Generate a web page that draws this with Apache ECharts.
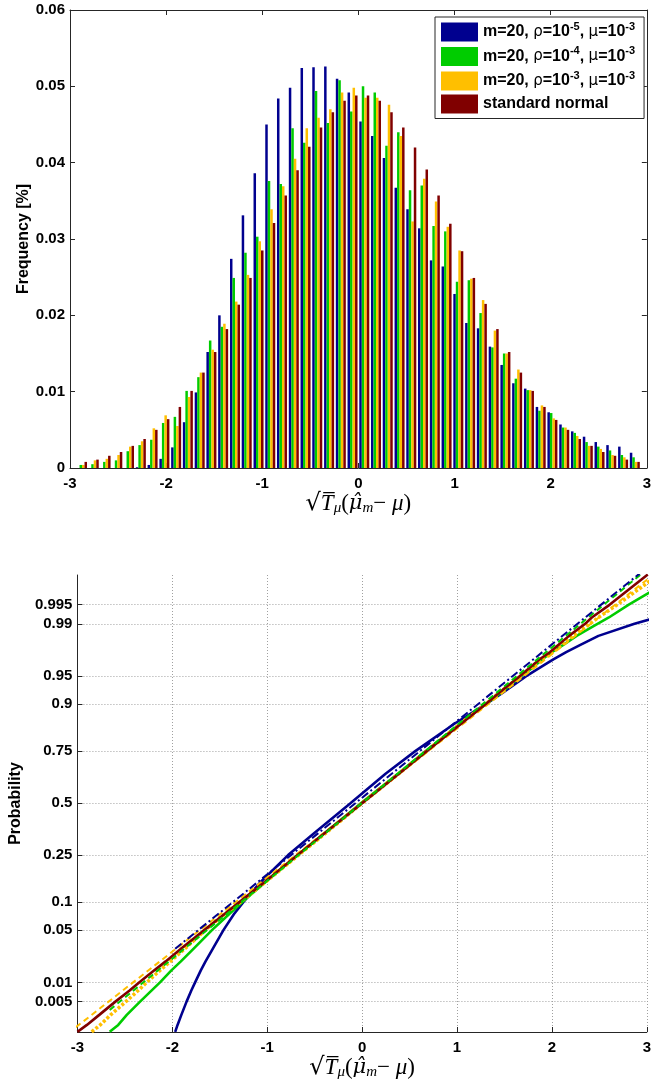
<!DOCTYPE html>
<html><head><meta charset="utf-8">
<script src="https://cdn.jsdelivr.net/npm/echarts@6/dist/echarts.min.js"></script>
<style>html,body{margin:0;padding:0;background:#fff}#c{width:654px;height:1085px}</style>
</head><body><div id="c"></div>
<script>
// ---------- data: histogram (top panel) ----------
const binCenters = [-2.875,-2.753,-2.630,-2.508,-2.386,-2.263,-2.141,-2.018,-1.896,-1.774,-1.651,-1.529,-1.407,-1.284,-1.162,-1.039,-0.917,-0.795,-0.672,-0.550,-0.428,-0.305,-0.183,-0.061,0.061,0.183,0.305,0.428,0.550,0.672,0.795,0.917,1.039,1.162,1.284,1.407,1.529,1.651,1.774,1.896,2.018,2.141,2.263,2.386,2.508,2.630,2.753,2.875];
const seriesNames = ['m=20, rho=1e-5, mu=1e-3','m=20, rho=1e-4, mu=1e-3','m=20, rho=1e-3, mu=1e-3','standard normal'];
const freqBlue = [0,0,0,0,0,0.0001,0.0004,0.0012,0.0027,0.006,0.0099,0.0152,0.02,0.0274,0.0331,0.0386,0.045,0.0484,0.0498,0.0524,0.0525,0.0526,0.051,0.0492,0.0454,0.0435,0.0406,0.0367,0.0339,0.0314,0.0272,0.0264,0.0228,0.019,0.0183,0.0159,0.0135,0.0111,0.0104,0.008,0.0073,0.0057,0.0048,0.0041,0.0034,0.003,0.0028,0.002];
const freqGreen = [0.0004,0.0005,0.0008,0.001,0.0022,0.003,0.0037,0.0059,0.0067,0.0101,0.0119,0.0167,0.0185,0.0249,0.0282,0.0303,0.0376,0.0372,0.0445,0.0426,0.0494,0.0452,0.0508,0.0467,0.05,0.0492,0.0422,0.044,0.0364,0.037,0.0317,0.031,0.0244,0.0246,0.0203,0.0158,0.015,0.0117,0.0102,0.0075,0.0072,0.0053,0.0046,0.0034,0.0028,0.0023,0.0017,0.0014];
const freqYellow = [0.0004,0.001,0.0012,0.0017,0.0028,0.0035,0.0052,0.0069,0.0055,0.0093,0.0125,0.0155,0.0189,0.0218,0.0253,0.0297,0.0339,0.0369,0.0405,0.0445,0.0459,0.047,0.0492,0.0498,0.0485,0.0485,0.0476,0.0435,0.0323,0.0379,0.0349,0.0316,0.0285,0.0248,0.022,0.018,0.015,0.0129,0.0102,0.0082,0.0065,0.0053,0.0042,0.0029,0.0025,0.0017,0.0014,0.0008];
const freqRed = [0.0008,0.0011,0.0016,0.0021,0.0029,0.0038,0.005,0.0064,0.008,0.0101,0.0125,0.0152,0.0182,0.0214,0.0249,0.0285,0.0321,0.0357,0.039,0.0421,0.0446,0.0466,0.0481,0.0488,0.0488,0.0481,0.0466,0.0446,0.042,0.0391,0.0357,0.032,0.0284,0.0249,0.0215,0.0182,0.0152,0.0125,0.0101,0.008,0.0063,0.005,0.0038,0.0029,0.0021,0.0016,0.0011,0.0008];

// ---------- data: normal probability plot (bottom panel) ----------
const probTicks = [0.005,0.01,0.05,0.1,0.25,0.5,0.75,0.9,0.95,0.99,0.995];
const probTickLabels = ['0.005','0.01','0.05','0.1','0.25','0.5','0.75','0.9','0.95','0.99','0.995'];
// sample quantiles (x) read at these probability levels
const probLevels = [0.0015,0.002,0.003,0.005,0.0075,0.01,0.015,0.02,0.03,0.05,0.075,0.1,0.15,0.25,0.35,0.5,0.65,0.75,0.85,0.9,0.925,0.95,0.96,0.969,0.975,0.98,0.985,0.99,0.992,0.995,0.9985];
const qBlue   = [-1.97,-1.945,-1.905,-1.85,-1.80,-1.76,-1.70,-1.65,-1.57,-1.46,-1.35,-1.25,-1.08,-0.78,-0.50,-0.12,0.25,0.56,0.98,1.30,1.49,1.725,1.865,2.015,2.15,2.30,2.49,2.87,3.10,3.60,4.50];
const qGreen  = [-2.66,-2.57,-2.48,-2.34,-2.22,-2.13,-2.01,-1.91,-1.77,-1.58,-1.40,-1.26,-1.03,-0.68,-0.39,-0.01,0.38,0.67,1.04,1.30,1.47,1.67,1.79,1.90,2.00,2.12,2.26,2.48,2.60,2.81,3.35];
const qYellow = [-2.85,-2.76,-2.65,-2.49,-2.36,-2.27,-2.13,-2.02,-1.86,-1.65,-1.45,-1.28,-1.03,-0.67,-0.38,0.00,0.39,0.68,1.04,1.30,1.45,1.67,1.77,1.89,2.01,2.10,2.22,2.40,2.49,2.69,3.13];
const qRed    = [-3.00,-2.90,-2.77,-2.60,-2.45,-2.35,-2.19,-2.07,-1.90,-1.66,-1.45,-1.29,-1.04,-0.68,-0.39,0.00,0.39,0.68,1.05,1.30,1.45,1.66,1.76,1.87,1.98,2.07,2.18,2.35,2.42,2.61,3.01];
// reference lines (x, probability) at their two ends
const refBlueX = [-1.97,3.2],  refBlueP = [0.0294,0.99943];
const refGreenX = [-2.66,3.2], refGreenP = [0.00364,0.99939];
const refYellowX = [-3.1,3.2], refYellowP = [0.00140,0.99900];

// ---------- helpers ----------
function probit(p){
 const a=[-3.969683028665376e+01,2.209460984245205e+02,-2.759285104469687e+02,1.383577518672690e+02,-3.066479806614716e+01,2.506628277459239e+00];
 const b=[-5.447609879822406e+01,1.615858368580409e+02,-1.556989798598866e+02,6.680131188771972e+01,-1.328068155288572e+01];
 const c=[-7.784894002430293e-03,-3.223964580411365e-01,-2.400758277161838e+00,-2.549732539343734e+00,4.374664141464968e+00,2.938163982698783e+00];
 const d=[7.784695709041462e-03,3.224671290700398e-01,2.445134137142996e+00,3.754408661907416e+00];
 const pl=0.02425, ph=1-pl; let q,r;
 if(p<pl){q=Math.sqrt(-2*Math.log(p));return (((((c[0]*q+c[1])*q+c[2])*q+c[3])*q+c[4])*q+c[5])/((((d[0]*q+d[1])*q+d[2])*q+d[3])*q+1);}
 if(p>ph){q=Math.sqrt(-2*Math.log(1-p));return -(((((c[0]*q+c[1])*q+c[2])*q+c[3])*q+c[4])*q+c[5])/((((d[0]*q+d[1])*q+d[2])*q+d[3])*q+1);}
 q=p-0.5;r=q*q;return (((((a[0]*r+a[1])*r+a[2])*r+a[3])*r+a[4])*r+a[5])*q/(((((b[0]*r+b[1])*r+b[2])*r+b[3])*r+b[4])*r+1);
}
const COLORS = ['#00008F','#00CC00','#FFBF00','#800000'];
const AXC = '#262626';
const FONT = 'Liberation Sans';
const tickFont = {fontFamily:FONT, fontWeight:'bold', fontSize:15, color:'#000'};
const legendRich = {
  n:{fontFamily:FONT, fontWeight:'bold', fontSize:16, color:'#000', lineHeight:22},
  g:{fontFamily:'DejaVu Sans', fontSize:15, color:'#000', lineHeight:22},
  s:{fontFamily:FONT, fontWeight:'bold', fontSize:11, color:'#000', verticalAlign:'top', lineHeight:14}
};
const legendText = {
  'm=20, rho=1e-5, mu=1e-3':'{n|m=20, }{g|ρ}{n|=10}{s|-5}{n|, }{g|μ}{n|=10}{s|-3}',
  'm=20, rho=1e-4, mu=1e-3':'{n|m=20, }{g|ρ}{n|=10}{s|-4}{n|, }{g|μ}{n|=10}{s|-3}',
  'm=20, rho=1e-3, mu=1e-3':'{n|m=20, }{g|ρ}{n|=10}{s|-3}{n|, }{g|μ}{n|=10}{s|-3}',
  'standard normal':'{n|standard normal}'
};
const mathName = '{r|√}{t|T\u0305}{sb|μ}{p|(}{h|μ\u0302}{sb|m}{p|− }{t|μ}{p|)}';
const mathRich = {
  r:{fontFamily:'DejaVu Serif', fontSize:24, color:'#000'},
  t:{fontFamily:'Liberation Serif', fontStyle:'italic', fontSize:23, color:'#000'},
  h:{fontFamily:'DejaVu Serif', fontStyle:'italic', fontSize:21, color:'#000'},
  sb:{fontFamily:'Liberation Serif', fontStyle:'italic', fontSize:15, color:'#000', verticalAlign:'bottom', lineHeight:19},
  p:{fontFamily:'Liberation Serif', fontSize:23, color:'#000'}
};
const dotted = {color:'#a0a0a0', type:[1,2], width:1};

const chart = echarts.init(document.getElementById('c'), null, {renderer:'canvas'});
const histSeries = [freqBlue,freqGreen,freqYellow,freqRed].map((arr,k)=>({
  name: seriesNames[k], type:'bar', xAxisIndex:0, yAxisIndex:0,
  barWidth:2.5, barGap:'0%',
  itemStyle:{color:COLORS[k]},
  data: binCenters.map((c,i)=>[c, arr[i]])
}));
function curve(name, qs, k, extra){
  return Object.assign({
    name, type:'line', xAxisIndex:2, yAxisIndex:2, showSymbol:false, clip:true,
    smooth:false,
    lineStyle:{color:COLORS[k], width:2.6}, itemStyle:{color:COLORS[k]},
    data: probLevels.map((p,i)=>[qs[i], probit(p)])
  }, extra||{});
}
function refLine(name, xs, ps, k, type){
  return {name, type:'line', xAxisIndex:2, yAxisIndex:2, showSymbol:false, clip:true,
    lineStyle:{color:COLORS[k], width:2, type}, itemStyle:{color:COLORS[k]},
    data: xs.map((x,i)=>[x, probit(ps[i])])};
}
const probSeries = [
  curve('np blue', qBlue, 0),
  curve('np green', qGreen, 1),
  curve('np yellow', qYellow, 2, {lineStyle:{color:COLORS[2], width:3.5, type:[3,2]}}),
  refLine('ref yellow', refYellowX, refYellowP, 2, [6,4]),
  curve('np red', qRed, 3),
  refLine('ref green', refGreenX, refGreenP, 1, [6,4]),
  refLine('ref blue', refBlueX, refBlueP, 0, [8,3,2,3])
];
const zTicks = probTicks.map(probit);

chart.setOption({
  animation:false,
  backgroundColor:'#fff',
  grid:[
    {left:70, top:10, width:582, height:458, show:false},
    {left:70, top:575, width:582, height:457, show:false}
  ],
  legend:{
    data: seriesNames, orient:'vertical', left:435, top:17,
    padding:[4,9,5,6], itemGap:4, itemWidth:37, itemHeight:19, icon:'rect',
    backgroundColor:'#fff', borderColor:AXC, borderWidth:1, borderRadius:0,
    selectedMode:false,
    formatter: n => legendText[n],
    textStyle:{rich: legendRich}
  },
  xAxis:[
    {type:'value', gridIndex:0, min:-3, max:3, interval:1, position:'bottom',
     axisLine:{show:true, onZero:false, lineStyle:{color:AXC}},
     axisTick:{show:true, inside:true, length:5, lineStyle:{color:AXC}},
     axisLabel:tickFont, splitLine:{show:false},
     name: mathName, nameLocation:'middle', nameGap:22, nameTextStyle:{rich:mathRich}},
    {type:'value', gridIndex:0, min:-3, max:3, interval:1, position:'top',
     axisLine:{show:true, onZero:false, lineStyle:{color:AXC}},
     axisTick:{show:true, inside:true, length:5, lineStyle:{color:AXC}},
     axisLabel:{show:false}, splitLine:{show:false}},
    {type:'value', gridIndex:1, min:-3, max:3, interval:1, position:'bottom',
     axisLine:{show:true, onZero:false, lineStyle:{color:AXC}},
     axisTick:{show:true, inside:true, length:5, lineStyle:{color:AXC}},
     axisLabel:tickFont, splitLine:{show:true, lineStyle:dotted},
     name: mathName, nameLocation:'middle', nameGap:22, nameTextStyle:{rich:mathRich}}
  ],
  yAxis:[
    {type:'value', gridIndex:0, min:0, max:0.06, interval:0.01, position:'left',
     axisLine:{show:true, onZero:false, lineStyle:{color:AXC}},
     axisTick:{show:true, inside:true, length:5, lineStyle:{color:AXC}},
     axisLabel:Object.assign({margin:5, formatter:v=>String(+v.toFixed(2))}, tickFont),
     splitLine:{show:false},
     name:'Frequency [%]', nameLocation:'middle', nameGap:38, nameRotate:90, nameMoveOverlap:false,
     nameTextStyle:{fontFamily:FONT, fontWeight:'bold', fontSize:16, color:'#000'}},
    {type:'value', gridIndex:0, min:0, max:0.06, interval:0.01, position:'right',
     axisLine:{show:true, onZero:false, lineStyle:{color:AXC}},
     axisTick:{show:true, inside:true, length:5, lineStyle:{color:AXC}},
     axisLabel:{show:false}, splitLine:{show:false}},
    {type:'value', gridIndex:1, min:-2.97, max:2.96, position:'left',
     axisLine:{show:true, onZero:false, lineStyle:{color:AXC}},
     axisTick:{show:true, inside:true, length:5, customValues:zTicks, lineStyle:{color:AXC}},
     axisLabel:Object.assign({margin:5, customValues:zTicks, formatter:v=>{
        let best=0; zTicks.forEach((z,i)=>{ if(Math.abs(z-v)<Math.abs(zTicks[best]-v)) best=i; });
        return probTickLabels[best]; }}, tickFont),
     splitLine:{show:true, lineStyle:dotted},
     name:'Probability', nameLocation:'middle', nameGap:52, nameRotate:90,
     nameTextStyle:{fontFamily:FONT, fontWeight:'bold', fontSize:16, color:'#000'}}
  ],
  series: histSeries.concat(probSeries)
});
</script></body></html>
